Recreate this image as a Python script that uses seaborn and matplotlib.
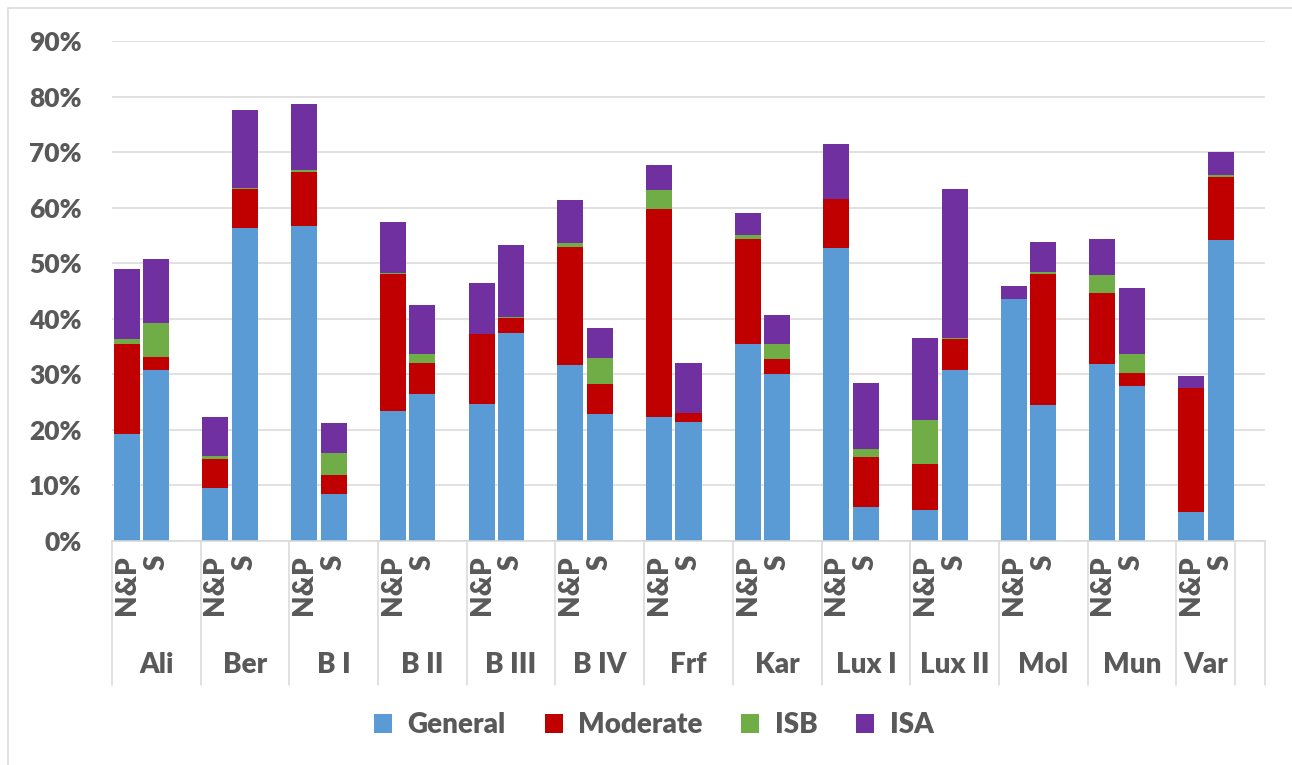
import numpy as np
import pandas as pd
import matplotlib
matplotlib.use("Agg")
import matplotlib.pyplot as plt
from matplotlib.lines import Line2D
from matplotlib.patches import Patch
from matplotlib.ticker import PercentFormatter
import seaborn as sns

# %% data (percent)

groups = ["Ali", "Ber", "B I", "B II", "B III", "B IV", "Frf", "Kar",
          "Lux I", "Lux II", "Mol", "Mun", "Var"]
subcats = ["N&P", "S"]

general_np = [19.3, 9.5, 56.7, 23.4, 24.7, 31.7, 22.4, 35.4, 52.7, 5.5, 43.5, 31.8, 5.3]
moderate_np = [16.1, 5.2, 9.7, 24.6, 12.5, 21.2, 37.3, 19.0, 8.9, 8.4, 0.0, 12.9, 22.3]
isb_np = [1.0, 0.6, 0.3, 0.3, 0.0, 0.8, 3.5, 0.7, 0.0, 7.9, 0.0, 3.2, 0.0]
isa_np = [12.5, 7.0, 12.0, 9.1, 9.3, 7.7, 4.5, 3.9, 9.8, 14.7, 2.4, 6.5, 2.1]

general_s = [30.8, 56.4, 8.5, 26.5, 37.5, 22.9, 21.4, 30.1, 6.2, 30.8, 24.4, 27.9, 54.1]
moderate_s = [2.4, 7.0, 3.3, 5.5, 2.6, 5.3, 1.7, 2.6, 8.9, 5.5, 23.6, 2.4, 11.4]
isb_s = [6.1, 0.1, 4.1, 1.7, 0.2, 4.8, 0.0, 2.8, 1.5, 0.3, 0.5, 3.4, 0.3]
isa_s = [11.5, 14.1, 5.3, 8.8, 13.0, 5.4, 8.9, 5.2, 11.9, 26.8, 5.3, 11.8, 4.2]

series = ["General", "Moderate", "ISB", "ISA"]
colors = {"General": "#5B9BD5", "Moderate": "#C00000", "ISB": "#70AD47", "ISA": "#7030A0"}

# %% table

rows = []
for i, g in enumerate(groups):
    for sub, vals in [("N&P", (general_np, moderate_np, isb_np, isa_np)),
                      ("S", (general_s, moderate_s, isb_s, isa_s))]:
        row = {"slot": g + "|" + sub}
        for name, v in zip(series, vals):
            row[name] = v[i] / 100
        rows.append(row)
df = pd.DataFrame(rows)
df["c_General"] = df["General"]
df["c_Moderate"] = df["c_General"] + df["Moderate"]
df["c_ISB"] = df["c_Moderate"] + df["ISB"]
df["c_ISA"] = df["c_ISB"] + df["ISA"]

order = []
for g in groups:
    order += [g + "|N&P", g + "|S", g + "|"]

# %% PLOT

sns.set_style("white")
plt.rcParams["font.family"] = ["Lato", "DejaVu Sans"]
text_col = "#595959"
grid_col = "#D9D9D9"
wt = "heavy"

fig = plt.figure(figsize=(12.92, 7.65), dpi=100)
ax = fig.add_axes([112 / 1292, 1 - 541 / 765, 1153 / 1292, 500 / 765])

for name in reversed(series):
    sns.barplot(data=df, x="slot", y="c_" + name, order=order, color=colors[name],
                width=0.88, saturation=1, ax=ax, linewidth=0)

ax.set_xlim(-0.5, len(order) - 0.5)
ax.set_ylim(0, 0.9)
ax.set_yticks(np.arange(0, 0.91, 0.1))
ax.yaxis.set_major_formatter(PercentFormatter(1.0, decimals=0))
ax.grid(axis="y", color=grid_col, linewidth=1.1)
ax.set_axisbelow(True)
for s in ["top", "right", "left"]:
    ax.spines[s].set_visible(False)
ax.spines["bottom"].set_color(grid_col)
ax.spines["bottom"].set_linewidth(1.1)
ax.set_xlabel("")
ax.set_ylabel("")

ax.set_xticks(range(len(order)))
ax.set_xticklabels([s.split("|")[1] for s in order], rotation=90,
                   fontsize=20, fontweight=wt, color=text_col)
ax.tick_params(axis="x", length=0, pad=10)
ax.tick_params(axis="y", length=0, pad=22, labelsize=19, labelcolor=text_col)
for t in ax.get_yticklabels():
    t.set_fontweight(wt)

# group labels and separators
tr = ax.get_xaxis_transform()
bounds = [3 * k - 0.5 for k in range(len(groups))] + [3 * len(groups) - 1.5, 3 * len(groups) - 0.5]
for b in bounds:
    ax.plot([b, b], [0, -0.288], transform=tr, color=grid_col, lw=1.1, clip_on=False)
for k, g in enumerate(groups):
    cx = 3 * k + (1 if k < len(groups) - 1 else 0.5)
    ax.text(cx, -0.248, g, transform=tr, ha="center", va="center",
            fontsize=20, fontweight=wt, color=text_col)

# legend
handles = [Patch(facecolor=colors[n], edgecolor="none", label=n) for n in series]
leg = fig.legend(handles=handles, loc="center", bbox_to_anchor=(0.506, 0.052), ncol=4,
                 frameon=False, handlelength=0.65, handleheight=0.65,
                 handletextpad=0.55, columnspacing=1.4,
                 prop={"size": 20, "weight": wt})
for t in leg.get_texts():
    t.set_color(text_col)

# chart frame
fig.add_artist(Line2D([8 / 1292, 8 / 1292], [0, 1 - 8 / 765], color=grid_col, lw=1.1))
fig.add_artist(Line2D([8 / 1292, 1], [1 - 8 / 765, 1 - 8 / 765], color=grid_col, lw=1.1))

plt.savefig("out.png", dpi=100)
plt.close()
